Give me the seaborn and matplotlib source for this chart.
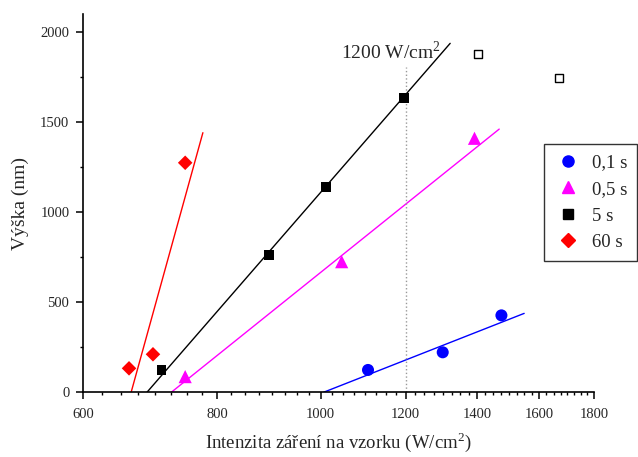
import numpy as np
import pandas as pd
import matplotlib
matplotlib.use("Agg")
import matplotlib.pyplot as plt
import seaborn as sns
from matplotlib.ticker import FixedLocator, NullFormatter
from matplotlib.lines import Line2D

# ---- data ----
series = ["0,1 s", "0,5 s", "5 s", "60 s"]
x_01 = [1107, 1300, 1475]
y_01 = [124, 222, 427]
x_05 = [747, 1046, 1392]
y_05 = [87, 725, 1410]
x_5 = [710, 894, 1012, 1197]
y_5 = [122, 762, 1138, 1633]
x_60 = [662, 697, 747]
y_60 = [133, 211, 1274]
x_open = [1404, 1668]
y_open = [1876, 1746]

# fitted line endpoints
fit_01_x = [1006, 1549]
fit_01_y = [0, 438]
fit_05_x = [725, 1468]
fit_05_y = [0, 1461]
fit_5_x = [688, 1321]
fit_5_y = [0, 1937]
fit_60_x = [665, 776]
fit_60_y = [0, 1441]

x_ticks = [600, 800, 1000, 1200, 1400, 1600, 1800]
y_ticks = [0, 500, 1000, 1500, 2000]

colors = {"0,1 s": "#0000ff", "0,5 s": "#ff00ff", "5 s": "#000000", "60 s": "#ff0000"}
markers = {"0,1 s": "o", "0,5 s": "^", "5 s": "s", "60 s": "D"}
sizes = {"0,1 s": 75, "0,5 s": 90, "5 s": 50, "60 s": 55}

pts = pd.DataFrame({
    "x": x_01 + x_05 + x_5 + x_60,
    "y": y_01 + y_05 + y_5 + y_60,
    "s": [series[0]] * len(x_01) + [series[1]] * len(x_05)
         + [series[2]] * len(x_5) + [series[3]] * len(x_60),
})
fits = pd.DataFrame({
    "x": fit_01_x + fit_05_x + fit_5_x + fit_60_x,
    "y": fit_01_y + fit_05_y + fit_5_y + fit_60_y,
    "s": [series[0]] * 2 + [series[1]] * 2 + [series[2]] * 2 + [series[3]] * 2,
})

sns.set_style("ticks")
plt.rcParams["font.family"] = ["Liberation Serif", "DejaVu Serif"]
plt.rcParams["mathtext.fontset"] = "custom"
plt.rcParams["mathtext.rm"] = "Liberation Serif"

fig = plt.figure(figsize=(6.38, 4.57), dpi=100)
ax = fig.add_axes([0.1306, 0.1416, 0.8004, 0.8278])
ax.set_xscale("log")

sns.lineplot(data=fits, x="x", y="y", hue="s", hue_order=series, palette=colors,
             units="s", estimator=None, lw=1.0, legend=False, ax=ax)
ax.plot([1200, 1200], [0, 1807], ls=":", color="#999999", lw=1.0)

for s in series:
    sub = pts[pts.s == s]
    sns.scatterplot(data=sub, x="x", y="y", color=colors[s], marker=markers[s],
                    s=sizes[s], edgecolor="none", legend=False, ax=ax, zorder=3)
sns.scatterplot(x=x_open, y=y_open, marker="s", s=40, facecolor="white",
                edgecolor="black", linewidth=1.0, legend=False, ax=ax, zorder=3)

ax.text(1296, 1890, "1200 W/cm$^2$", ha="right", va="center", fontsize=14)

ax.set_xlim(600, 1800)
ax.set_ylim(0, 2100)
ax.xaxis.set_major_locator(FixedLocator(x_ticks))
ax.xaxis.set_minor_locator(FixedLocator(np.arange(600, 1801, 25)))
ax.xaxis.set_minor_formatter(NullFormatter())
ax.set_xticklabels([str(t) for t in x_ticks])
ax.yaxis.set_major_locator(FixedLocator(y_ticks))
ax.yaxis.set_minor_locator(FixedLocator(np.arange(0, 2101, 250)))
ax.tick_params(which="major", direction="out", length=5, width=1.1, labelsize=10.5,
               color="black", pad=5)
ax.tick_params(axis="x", which="major", pad=6)
ax.tick_params(which="minor", direction="out", length=2.5, width=1.0, color="black")
for side in ["top", "right"]:
    ax.spines[side].set_visible(False)
for side in ["left", "bottom"]:
    ax.spines[side].set_linewidth(1.2)
    ax.spines[side].set_color("black")

ax.set_xlabel("Intenzita záření na vzorku (W/cm$^2$)", fontsize=13.5, labelpad=7)
ax.set_ylabel("Výška (nm)", fontsize=14, labelpad=8)

handles = [Line2D([], [], ls="none", marker=markers[s], color=colors[s],
                  markersize={"0,1 s": 8, "0,5 s": 9, "5 s": 6.5, "60 s": 7}[s]) for s in series]
leg = ax.legend(handles, series, loc="upper left", bbox_to_anchor=(0.902, 0.656),
                borderaxespad=0, frameon=True, fancybox=False, fontsize=13.5,
                handletextpad=0.5, handlelength=1.5, borderpad=0.55, labelspacing=0.5)
leg.get_frame().set_edgecolor("black")
leg.get_frame().set_linewidth(1.0)

fig.savefig("out.png", dpi=100)
